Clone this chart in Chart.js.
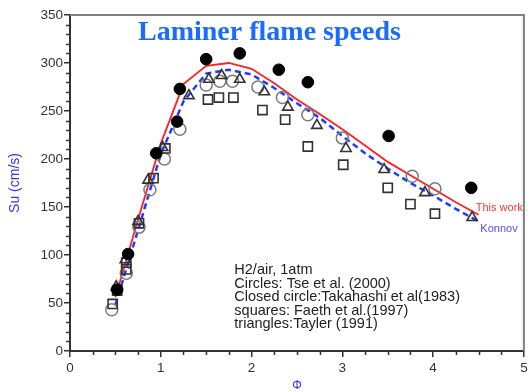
<!DOCTYPE html>
<html>
<head>
<meta charset="utf-8">
<script src="https://cdn.jsdelivr.net/npm/chart.js@4.4.1/dist/chart.umd.min.js"></script>
<style>
  html, body { margin: 0; padding: 0; background: #fff; }
  #wrap { width: 532px; height: 392px; }
</style>
</head>
<body>
<div id="wrap"><canvas id="myChart" width="532" height="392"></canvas></div>
<script>
// simulated curves
const phiSim = [0.5, 0.75, 1.0, 1.25, 1.5, 1.75, 2.0, 2.25, 2.5, 2.75, 3.0, 3.25, 3.5, 3.75, 4.0, 4.25, 4.5];
const suThisWork = [56, 137, 216, 278, 297, 300, 294, 279, 262, 247, 231, 214, 197, 183, 169, 155, 142];
const suKonnov = [48, 126, 205, 260, 289, 293, 288, 274, 258, 243, 224, 206, 190, 175, 162, 148, 135];

// Tse et al. (2000) - open circles
const phiTse = [0.46, 0.62, 0.76, 0.88, 1.04, 1.21, 1.50, 1.65, 1.79, 2.07, 2.34, 2.62, 3.00, 3.77, 4.02];
const suTse = [43, 81, 129, 168, 200, 231, 277, 281, 281, 275, 264, 246, 222, 182, 169];

// Takahashi et al (1983) - closed circles
const phiTakahashi = [0.52, 0.64, 0.95, 1.18, 1.21, 1.50, 1.87, 2.30, 2.62, 3.51, 4.42];
const suTakahashi = [64, 101, 206, 239, 273, 304, 310, 293, 280, 224, 170];

// Faeth et al. (1997) - squares
const phiFaeth = [0.47, 0.52, 0.62, 0.62, 0.76, 0.92, 1.05, 1.52, 1.64, 1.80, 2.12, 2.37, 2.62, 3.01, 3.50, 3.75, 4.02];
const suFaeth = [49, 63, 85, 92, 133, 180, 211, 262, 264, 264, 251, 241, 213, 194, 170, 153, 143];

// Tayler (1991) - triangles
const phiTayler = [0.51, 0.61, 0.75, 0.86, 1.02, 1.31, 1.53, 1.67, 1.87, 2.14, 2.40, 2.72, 3.04, 3.46, 3.91, 4.43];
const suTayler = [67, 95, 135, 178, 212, 266, 283, 287, 283, 270, 254, 235, 211, 189, 165, 139];

const xTicks = [0, 1, 2, 3, 4, 5];
const yTicks = [0, 50, 100, 150, 200, 250, 300, 350];

const noteLines = [
  'H2/air, 1atm',
  'Circles: Tse et al. (2000)',
  'Closed circle:Takahashi et al(1983)',
  'squares: Faeth et al.(1997)',
  'triangles:Tayler (1991)'
];

function pts(xs, ys) {
  return xs.map((x, i) => ({ x: x, y: ys[i] }));
}

// minor ticks, frame, title and notes
const decorPlugin = {
  id: 'decor',
  afterDraw(chart) {
    const ctx = chart.ctx;
    const area = chart.chartArea;
    const xs = chart.scales.x;
    const ys = chart.scales.y;
    ctx.save();

    // gray frame top / right
    ctx.strokeStyle = '#808080';
    ctx.lineWidth = 2;
    ctx.beginPath();
    ctx.moveTo(area.left, area.top);
    ctx.lineTo(area.right, area.top);
    ctx.lineTo(area.right, area.bottom);
    ctx.stroke();

    // minor ticks
    ctx.strokeStyle = '#333';
    ctx.lineWidth = 1.5;
    ctx.beginPath();
    for (let v = 10; v < 350; v += 10) {
      if (v % 50 === 0) continue;
      const py = Math.round(ys.getPixelForValue(v)) + 0.5;
      ctx.moveTo(area.left - 4, py);
      ctx.lineTo(area.left, py);
    }
    for (let v = 0.25; v < 5; v += 0.25) {
      if (Math.abs(v - Math.round(v)) < 0.01) continue;
      const px = Math.round(xs.getPixelForValue(v)) + 0.5;
      ctx.moveTo(px, area.bottom);
      ctx.lineTo(px, area.bottom + 4);
    }
    ctx.stroke();

    // title inside plot
    ctx.fillStyle = '#1a6cff';
    ctx.font = 'bold 28px "Liberation Serif", serif';
    ctx.textBaseline = 'middle';
    ctx.textAlign = 'left';
    ctx.fillText('Laminer flame speeds', area.left + 68, area.top + 18);

    // curve labels
    ctx.font = '11px "Liberation Sans", Arial, sans-serif';
    ctx.fillStyle = '#ff3333';
    ctx.fillText('This work', xs.getPixelForValue(4.47), ys.getPixelForValue(149));
    ctx.fillStyle = '#4b4bff';
    ctx.fillText('Konnov', xs.getPixelForValue(4.52), ys.getPixelForValue(127));

    // notes
    ctx.fillStyle = '#222';
    ctx.font = '14.5px "Liberation Sans", Arial, sans-serif';
    noteLines.forEach((t, i) => {
      ctx.fillText(t, xs.getPixelForValue(1.81), ys.getPixelForValue(84) + i * 13.4);
    });

    ctx.restore();
  }
};

const ctx = document.getElementById('myChart');
new Chart(ctx, {
  type: 'scatter',
  data: {
    datasets: [
      {
        label: 'Takahashi',
        data: pts(phiTakahashi, suTakahashi),
        pointStyle: 'circle',
        pointRadius: 5.8,
        backgroundColor: '#000',
        borderColor: '#000',
        borderWidth: 1,
        order: 1
      },
      {
        label: 'Tayler',
        data: pts(phiTayler, suTayler),
        pointStyle: 'triangle',
        pointRadius: 6,
        backgroundColor: 'rgba(0,0,0,0)',
        borderColor: '#333',
        borderWidth: 1.6,
        order: 2
      },
      {
        label: 'Faeth',
        data: pts(phiFaeth, suFaeth),
        pointStyle: 'rect',
        pointRadius: 6.5,
        backgroundColor: 'rgba(0,0,0,0)',
        borderColor: '#333',
        borderWidth: 1.6,
        order: 3
      },
      {
        label: 'Tse',
        data: pts(phiTse, suTse),
        pointStyle: 'circle',
        pointRadius: 6,
        backgroundColor: 'rgba(0,0,0,0)',
        borderColor: '#7a7a7a',
        borderWidth: 1.5,
        order: 4
      },
      {
        label: 'This work',
        type: 'line',
        data: pts(phiSim, suThisWork),
        borderColor: '#ff2020',
        borderWidth: 1.8,
        pointRadius: 0,
        tension: 0,
        order: 5
      },
      {
        label: 'Konnov',
        type: 'line',
        data: pts(phiSim, suKonnov),
        borderColor: '#1e3cff',
        borderWidth: 2.5,
        borderDash: [6, 4],
        pointRadius: 0,
        tension: 0,
        order: 6
      }
    ]
  },
  options: {
    responsive: false,
    animation: false,
    layout: { padding: { top: 15, right: 7, left: 0, bottom: 0 } },
    plugins: {
      legend: { display: false },
      tooltip: { enabled: false }
    },
    scales: {
      x: {
        type: 'linear',
        min: 0,
        max: 5,
        afterFit(scale) { scale.height = 41; },
        afterBuildTicks(scale) { scale.ticks = xTicks.map(v => ({ value: v })); },
        ticks: {
          color: '#333',
          font: { family: '"Liberation Sans", Arial, sans-serif', size: 13.5 },
          padding: 3
        },
        grid: { drawOnChartArea: false, tickLength: 6, color: '#333', lineWidth: 1.5 },
        border: { color: '#333', width: 2 },
        title: {
          display: true,
          text: 'Φ',
          color: '#3333ff',
          font: { family: '"Liberation Sans", Arial, sans-serif', size: 12, lineHeight: 1 },
          padding: { top: 0, bottom: 0 }
        }
      },
      y: {
        type: 'linear',
        min: 0,
        max: 350,
        afterFit(scale) { scale.width = 70; },
        afterBuildTicks(scale) { scale.ticks = yTicks.map(v => ({ value: v })); },
        ticks: {
          color: '#333',
          font: { family: '"Liberation Sans", Arial, sans-serif', size: 13.5 },
          padding: 1
        },
        grid: { drawOnChartArea: false, tickLength: 6, color: '#333', lineWidth: 1.5 },
        border: { color: '#333', width: 2 },
        title: {
          display: true,
          text: 'Su (cm/s)',
          color: '#3333ff',
          font: { family: '"Liberation Sans", Arial, sans-serif', size: 14, lineHeight: 1.2 },
          padding: { top: 7, bottom: 0 }
        }
      }
    }
  },
  plugins: [decorPlugin]
});
</script>
</body>
</html>
